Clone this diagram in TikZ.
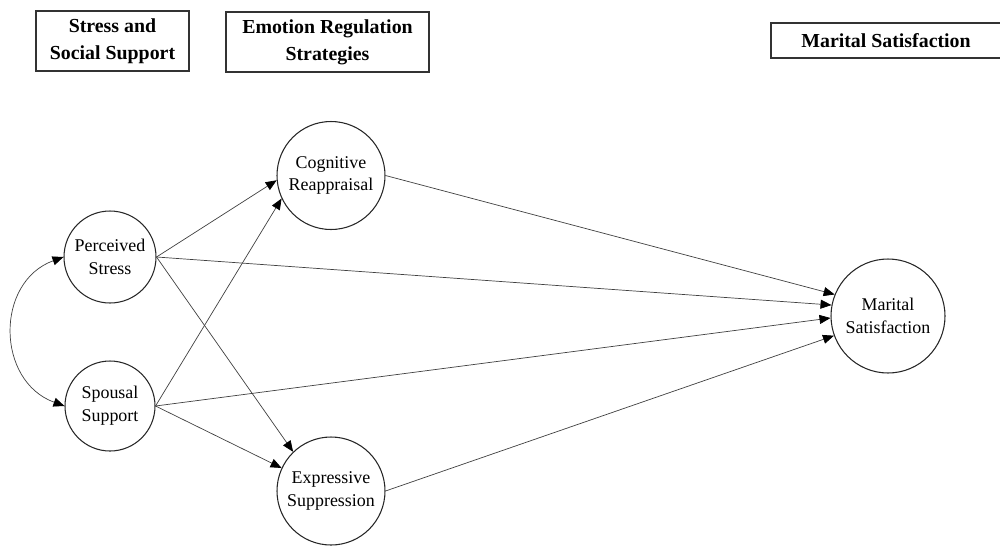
\documentclass[tikz,border=0pt]{standalone}
\usepackage{fontspec}
\setmainfont{Liberation Serif}
\usetikzlibrary{arrows.meta}
\tikzset{
  latent/.style={circle, draw=black!85, line width=0.6pt, align=center,
    inner sep=0pt, font=\fontsize{10.2}{13}\selectfont},
  header/.style={draw=black!80, line width=0.6pt, align=center, inner sep=0pt,
    font=\fontsize{11.3}{15.4}\selectfont\bfseries},
  tip/.tip={Triangle[length=2.2mm,width=1.8mm,color=black]},
  arr/.style={-tip, draw=black!75, line width=0.4pt}
}

\begin{document}
\begin{tikzpicture}[x=0.2mm,y=-0.2mm]
                \useasboundingbox (0,0) rectangle (1000,546);

                % Headers
                \node[header, minimum width=30.6mm, minimum height=12mm] (hstress) at (112.5,41) {Stress and\\Social Support};
                \node[header, minimum width=40.6mm, minimum height=12mm] (hemo) at (327.5,42) {Emotion Regulation\\Strategies};
                \node[header, minimum width=46mm, minimum height=7mm] (hmarital) at (886,40.5) {Marital Satisfaction};

                % Variables
                \node[latent, minimum size=18.4mm] (stress) at (110,257) {Perceived\\Stress};
                \node[latent, minimum size=18mm] (support) at (110,406) {Spousal\\Support};
                \node[latent, minimum size=21.6mm] (reapp) at (331,175.5) {Cognitive\\Reappraisal};
                \node[latent, minimum size=21.6mm] (suppr) at (331,491) {Expressive\\Suppression};
                \node[latent, minimum size=22.8mm] (marital) at (888,316) {Marital\\Satisfaction};

                % Covariance
                \draw[arr, tip-tip] (stress.west) to[out=200, in=160, looseness=1.25] (support.west);

                % Paths
                \draw[arr] (stress.east) -- (reapp.185);
                \draw[arr] (support.east) -- (reapp.205);
                \draw[arr] (stress.east) -- (suppr.134);
                \draw[arr] (support.east) -- (suppr.155);
                \draw[arr] (reapp.east) -- (marital.158);
                \draw[arr] (stress.east) -- (marital.169);
                \draw[arr] (support.east) -- (marital.182);
                \draw[arr] (suppr.east) -- (marital.200);
            \end{tikzpicture}
\end{document}
